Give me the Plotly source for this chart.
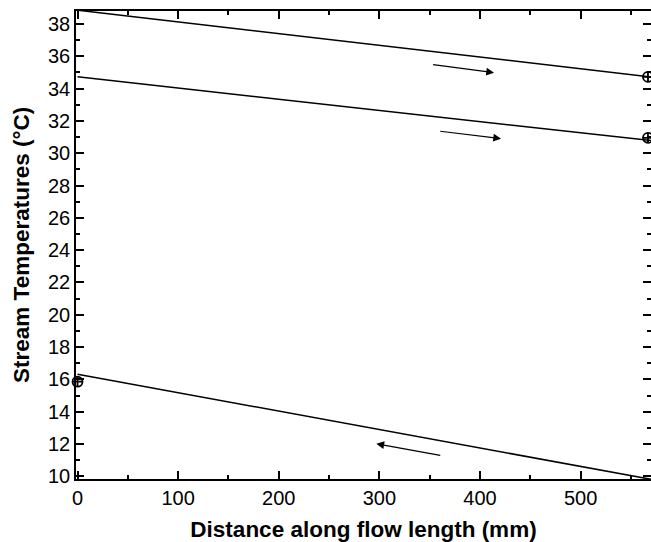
import plotly.graph_objects as go

# Stream temperature lines (distance mm, temperature °C)
hot1_x = [0, 570]
hot1_y = [38.85, 34.72]
hot2_x = [0, 570]
hot2_y = [34.73, 30.78]
cold_x = [0, 570]
cold_y = [16.32, 9.82]

# Measured points
meas_x = [0, 567, 567]
meas_y = [15.86, 34.72, 30.95]

# Flow direction arrows: (tail_x, tail_y, head_x, head_y)
arrow_tail_x = [352, 359, 362]
arrow_tail_y = [35.49, 31.37, 11.28]
arrow_head_x = [414, 421, 297]
arrow_head_y = [34.98, 30.90, 12.02]

xticks = [0, 100, 200, 300, 400, 500]
yticks = list(range(10, 40, 2))

x_title = "Distance along flow length (mm)"
y_title = "Stream Temperatures (°C)"

fig = go.Figure()
line_style = dict(color="black", width=1.5)
for xs, ys in [(hot1_x, hot1_y), (hot2_x, hot2_y), (cold_x, cold_y)]:
    fig.add_trace(go.Scatter(x=xs, y=ys, mode="lines", line=line_style,
                             showlegend=False, cliponaxis=True))
fig.add_trace(go.Scatter(x=meas_x, y=meas_y, mode="markers",
                         marker=dict(symbol="circle-cross-open", size=10,
                                     color="black", line=dict(width=1.8)),
                         showlegend=False, cliponaxis=False))

for tx, ty, hx, hy in zip(arrow_tail_x, arrow_tail_y, arrow_head_x, arrow_head_y):
    fig.add_annotation(x=hx, y=hy, ax=tx, ay=ty, xref="x", yref="y",
                       axref="x", ayref="y", showarrow=True, text="",
                       arrowhead=2, arrowsize=1.3, arrowwidth=1.2,
                       arrowcolor="black", standoff=0)

font_family = "Liberation Sans, Arial, sans-serif"
fig.update_layout(
    width=651, height=542,
    margin=dict(l=76, r=0, t=11, b=63, autoexpand=False),
    paper_bgcolor="white", plot_bgcolor="white",
    font=dict(family=font_family, color="black", size=20),
)
fig.update_xaxes(
    range=[-1.5, 570], tickvals=xticks, ticktext=[str(v) for v in xticks],
    ticks="inside", ticklen=8, tickwidth=1.5, tickcolor="black",
    showline=True, linecolor="black", linewidth=1.5, mirror="ticks",
    showgrid=False, zeroline=False, automargin=False,
    minor=dict(dtick=50, tick0=0, ticks="inside", ticklen=4, tickwidth=1.5, tickcolor="black", showgrid=False),
    tickfont=dict(size=20),
    title=dict(text="<b>" + x_title + "</b>", font=dict(size=22.5), standoff=14),
)
fig.update_yaxes(
    range=[9.84, 38.8], tickvals=yticks, ticktext=[str(v) for v in yticks],
    ticks="inside", ticklen=8, tickwidth=1.5, tickcolor="black",
    showline=True, linecolor="black", linewidth=1.5, mirror="ticks",
    showgrid=False, zeroline=False, automargin=False,
    minor=dict(dtick=1, tick0=0, ticks="inside", ticklen=4, tickwidth=1.5, tickcolor="black", showgrid=False),
    tickfont=dict(size=20),
)
fig.add_annotation(text="<b>" + y_title + "</b>", xref="paper", yref="paper",
                   x=-0.0957, y=0.5, xanchor="center", yanchor="middle",
                   textangle=-90, showarrow=False, font=dict(size=22.5))

fig.write_html("out.html", config={"displayModeBar": False},
               post_script="document.body.style.margin='0';document.body.style.overflow='hidden';")
